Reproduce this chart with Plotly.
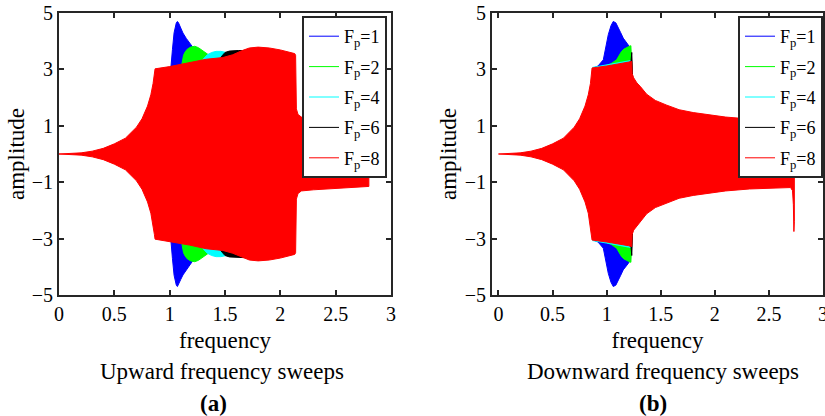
import plotly.graph_objects as go

# ---------------- data (upper envelope of the oscillating response; lower = mirror) -------------
names = ["F<sub>p</sub>=1", "F<sub>p</sub>=2", "F<sub>p</sub>=4", "F<sub>p</sub>=6", "F<sub>p</sub>=8"]
colors = ["#0000FF", "#00FF00", "#00FFFF", "#000000", "#FF0000"]

# (a) upward sweeps
up_f_fp1 = [1.0, 1.012, 1.025, 1.04, 1.06, 1.07, 1.08, 1.10, 1.12, 1.15, 1.18, 1.21, 1.22]
up_a_fp1 = [3.08, 3.10, 3.70, 4.30, 4.65, 4.70, 4.65, 4.45, 4.29, 4.10, 3.94, 3.78, 3.20]
up_f_fp2 = [1.11, 1.118, 1.125, 1.14, 1.16, 1.19, 1.227, 1.26, 1.30, 1.35, 1.40, 1.42]
up_a_fp2 = [3.17, 3.30, 3.50, 3.62, 3.72, 3.79, 3.82, 3.77, 3.66, 3.52, 3.43, 3.38]
up_f_fp4 = [1.30, 1.34, 1.38, 1.42, 1.46, 1.50, 1.53, 1.55]
up_a_fp4 = [3.35, 3.52, 3.60, 3.64, 3.64, 3.61, 3.55, 3.50]
up_f_fp6 = [1.46, 1.50, 1.54, 1.58, 1.62, 1.66, 1.70]
up_a_fp6 = [3.42, 3.60, 3.65, 3.67, 3.67, 3.67, 3.68]
up_f_fp8 = [0.0, 0.2, 0.3, 0.4, 0.5, 0.6, 0.7, 0.75, 0.8, 0.83, 0.85, 0.862, 0.868,
            1.0, 1.18, 1.33, 1.48, 1.57, 1.65, 1.72, 1.8, 1.9, 2.0, 2.13, 2.138,
            2.145, 2.16, 2.19, 2.3, 2.5, 2.7, 2.8]
up_a_fp8 = [0.0, 0.04, 0.10, 0.20, 0.36, 0.56, 0.95, 1.25, 1.70, 2.10, 2.50, 2.85, 3.02,
            3.10, 3.23, 3.36, 3.42, 3.52, 3.66, 3.76, 3.79, 3.76, 3.69, 3.56, 3.50,
            1.60, 1.40, 1.31, 1.27, 1.22, 1.17, 1.15]

# (b) downward sweeps
dn_f_fp1 = [0.875, 0.92, 0.969, 0.99, 1.015, 1.04, 1.061, 1.085, 1.107, 1.13, 1.153, 1.18, 1.20, 1.212, 1.218]
dn_a_fp1 = [3.05, 3.12, 3.34, 3.75, 4.23, 4.55, 4.70, 4.65, 4.50, 4.30, 4.11, 3.98, 3.88, 3.80, 3.20]
dn_f_fp2 = [0.984, 1.04, 1.092, 1.115, 1.138, 1.16, 1.185, 1.21, 1.224, 1.23]
dn_a_fp2 = [3.12, 3.20, 3.34, 3.48, 3.64, 3.72, 3.78, 3.82, 3.84, 3.30]
dn_f_fp4 = [0.868, 1.0, 1.1, 1.2, 1.23, 1.235]
dn_a_fp4 = [3.07, 3.16, 3.22, 3.30, 3.32, 2.80]
dn_f_fp6 = [1.215, 1.226, 1.232, 1.236, 1.24]
dn_a_fp6 = [3.26, 3.32, 3.60, 3.00, 2.72]
dn_f_fp8 = [0.0, 0.2, 0.3, 0.4, 0.5, 0.6, 0.7, 0.75, 0.8, 0.83, 0.85, 0.858, 0.865,
            1.0, 1.1, 1.2, 1.232, 1.236, 1.25, 1.28, 1.31, 1.37, 1.45, 1.55, 1.67,
            1.8, 1.92, 2.1, 2.32, 2.5, 2.7, 2.718, 2.726, 2.731, 2.735]
dn_a_fp8 = [0.0, 0.04, 0.10, 0.20, 0.36, 0.56, 0.95, 1.25, 1.70, 2.10, 2.50, 2.85, 3.05,
            3.12, 3.18, 3.25, 3.28, 2.85, 2.70, 2.52, 2.40, 2.12, 1.90, 1.74, 1.57,
            1.47, 1.41, 1.31, 1.24, 1.22, 1.19, 1.30, 1.80, 2.75, 2.40]

x_ticks = [0, 0.5, 1, 1.5, 2, 2.5, 3]
x_ticktext = ["0", "0.5", "1", "1.5", "2", "2.5", "3"]
y_ticks = [-5, -3, -1, 1, 3, 5]

up = [(up_f_fp1, up_a_fp1), (up_f_fp2, up_a_fp2), (up_f_fp4, up_a_fp4),
      (up_f_fp6, up_a_fp6), (up_f_fp8, up_a_fp8)]
dn = [(dn_f_fp1, dn_a_fp1), (dn_f_fp2, dn_a_fp2), (dn_f_fp4, dn_a_fp4),
      (dn_f_fp6, dn_a_fp6), (dn_f_fp8, dn_a_fp8)]

FONT = "Liberation Serif"
AX = "#262626"

fig = go.Figure()


def band(f, a):
    xs = list(f) + list(f[::-1])
    ys = list(a) + [-v for v in a[::-1]]
    return xs, ys


for panel, data, xa, ya, lg in [(0, up, "x", "y", "legend"), (1, dn, "x2", "y2", "legend2")]:
    for (f, a), c in zip(data, colors):
        xs, ys = band(f, a)
        fig.add_trace(go.Scatter(x=xs, y=ys, mode="lines", fill="toself", fillcolor=c,
                                 line=dict(color=c, width=1), showlegend=False,
                                 xaxis=xa, yaxis=ya, hoverinfo="skip"))
    for i, (n, c) in enumerate(zip(names, colors)):
        fig.add_trace(go.Scatter(x=[None], y=[None], mode="lines", name=n,
                                 line=dict(color=c, width=1), legend=lg,
                                 legendgroup=f"{panel}{i}", xaxis=xa, yaxis=ya))

axis_common = dict(showline=True, linecolor=AX, linewidth=2, mirror="ticks",
                   ticks="inside", ticklen=5, tickwidth=2, tickcolor=AX,
                   showgrid=False, zeroline=False, automargin=False,
                   ticklabeloverflow="allow",
                   tickfont=dict(family=FONT, size=20, color="black"))

legend_common = dict(yanchor="top", xanchor="right", y=(416 - 16) / 416,
                     bgcolor="white", bordercolor=AX, borderwidth=2,
                     font=dict(family=FONT, size=18, color="black"), tracegroupgap=4,
                     itemwidth=30)

ann_font = dict(family=FONT, size=23, color="black")

fig.update_layout(
    width=825, height=416,
    margin=dict(l=0, r=0, t=0, b=0, autoexpand=False),
    paper_bgcolor="white", plot_bgcolor="white",
    font=dict(family=FONT, color="black"),
    xaxis=dict(domain=[59 / 825, 391 / 825], range=[0, 3], tickvals=x_ticks, ticktext=x_ticktext,
               title=dict(text="frequency", font=dict(size=23), standoff=8), **axis_common),
    yaxis=dict(domain=[(416 - 295) / 416, (416 - 13) / 416], range=[-5, 5], tickvals=y_ticks,
               title=dict(text="amplitude", font=dict(size=23), standoff=1), **axis_common),
    xaxis2=dict(domain=[492 / 825, 823 / 825], range=[-0.06, 3.0], tickvals=x_ticks, ticktext=x_ticktext,
                anchor="y2",
                title=dict(text="frequency", font=dict(size=23), standoff=8), **axis_common),
    yaxis2=dict(domain=[(416 - 295) / 416, (416 - 13) / 416], range=[-5, 5], tickvals=y_ticks,
                anchor="x2",
                title=dict(text="amplitude", font=dict(size=23), standoff=2), **axis_common),
    legend=dict(x=387 / 825, **legend_common),
    legend2=dict(x=823 / 825, **legend_common),
    annotations=[
        dict(text="Upward frequency sweeps", x=222 / 825, y=(416 - 371) / 416, xref="paper", yref="paper",
             xanchor="center", yanchor="middle", showarrow=False, font=ann_font),
        dict(text="<b>(a)</b>", x=213 / 825, y=(416 - 403) / 416, xref="paper", yref="paper",
             xanchor="center", yanchor="middle", showarrow=False, font=ann_font),
        dict(text="Downward frequency sweeps", x=663 / 825, y=(416 - 371) / 416, xref="paper", yref="paper",
             xanchor="center", yanchor="middle", showarrow=False, font=ann_font),
        dict(text="<b>(b)</b>", x=653 / 825, y=(416 - 403) / 416, xref="paper", yref="paper",
             xanchor="center", yanchor="middle", showarrow=False, font=ann_font),
    ],
)

fig.write_html("out.html")
